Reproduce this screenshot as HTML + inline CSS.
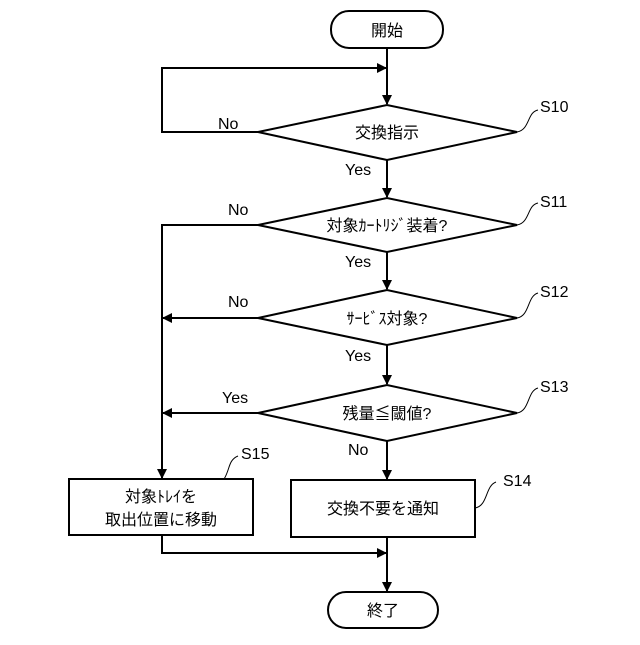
<!DOCTYPE html>
<html><head><meta charset="utf-8"><style>
body{margin:0;background:#fff}
svg text{font-family:"Liberation Sans","Noto Sans CJK JP",sans-serif;fill:#000}
</style></head><body>
<svg width="640" height="640" viewBox="0 0 640 640" xmlns="http://www.w3.org/2000/svg">
<defs><marker id="a" markerWidth="10" markerHeight="10" refX="9" refY="5" orient="auto" markerUnits="userSpaceOnUse"><path d="M0,0 L10,5 L0,10 Z" fill="#000"/></marker></defs>
<g stroke="#000" stroke-width="2" fill="none">
<rect x="331" y="11" width="112" height="37" rx="18"/>
<rect x="328" y="592" width="110" height="36" rx="18"/>
<polygon points="258,132 387,105 517,132 387,160"/>
<polygon points="258,225 387,198 517,225 387,252"/>
<polygon points="258,318 387,290 517,318 387,345"/>
<polygon points="258,413 387,385 517,413 387,441"/>
<rect x="69" y="479" width="184" height="56"/>
<rect x="291" y="480" width="184" height="57"/>
<line x1="387" y1="48" x2="387" y2="104" marker-end="url(#a)"/>
<polyline points="258,132 162,132 162,68 386,68" marker-end="url(#a)"/>
<line x1="387" y1="160" x2="387" y2="197" marker-end="url(#a)"/>
<polyline points="258,225 162,225 162,478" marker-end="url(#a)"/>
<line x1="387" y1="252" x2="387" y2="289" marker-end="url(#a)"/>
<line x1="258" y1="318" x2="163" y2="318" marker-end="url(#a)"/>
<line x1="387" y1="345" x2="387" y2="384" marker-end="url(#a)"/>
<line x1="258" y1="413" x2="163" y2="413" marker-end="url(#a)"/>
<line x1="387" y1="441" x2="387" y2="479" marker-end="url(#a)"/>
<polyline points="162,535 162,553 386,553" marker-end="url(#a)"/>
<line x1="387" y1="537" x2="387" y2="591" marker-end="url(#a)"/>
<g stroke-width="1">
<path d="M517,132 C530,130 527,112 538,110"/>
<path d="M517,225 C530,223 527,205 538,203"/>
<path d="M517,318 C530,316 527,296 538,293"/>
<path d="M517,413 C530,411 527,391 538,388"/>
<path d="M475,508 C488,506 485,486 496,482"/>
<path d="M224,479 C230,470 228,460 238,456"/>
</g>
</g>
<g font-size="16">
<text x="387" y="36" text-anchor="middle">開始</text>
<text x="387" y="138" text-anchor="middle">交換指示</text>
<text x="387" y="231" text-anchor="middle">対象ｶｰﾄﾘｼﾞ装着?</text>
<text x="387" y="324" text-anchor="middle">ｻｰﾋﾞｽ対象?</text>
<text x="387" y="419" text-anchor="middle">残量≦閾値?</text>
<text x="161" y="502" text-anchor="middle">対象ﾄﾚｲを</text>
<text x="161" y="525" text-anchor="middle">取出位置に移動</text>
<text x="383" y="514" text-anchor="middle">交換不要を通知</text>
<text x="383" y="616" text-anchor="middle">終了</text>
<text x="218" y="129">No</text>
<text x="345" y="175">Yes</text>
<text x="228" y="215">No</text>
<text x="345" y="267">Yes</text>
<text x="228" y="307">No</text>
<text x="345" y="361">Yes</text>
<text x="222" y="403">Yes</text>
<text x="348" y="455">No</text>
<text x="540" y="112">S10</text>
<text x="540" y="207">S11</text>
<text x="540" y="297">S12</text>
<text x="540" y="392">S13</text>
<text x="503" y="486">S14</text>
<text x="241" y="459">S15</text>
</g>
</svg>
</body></html>
